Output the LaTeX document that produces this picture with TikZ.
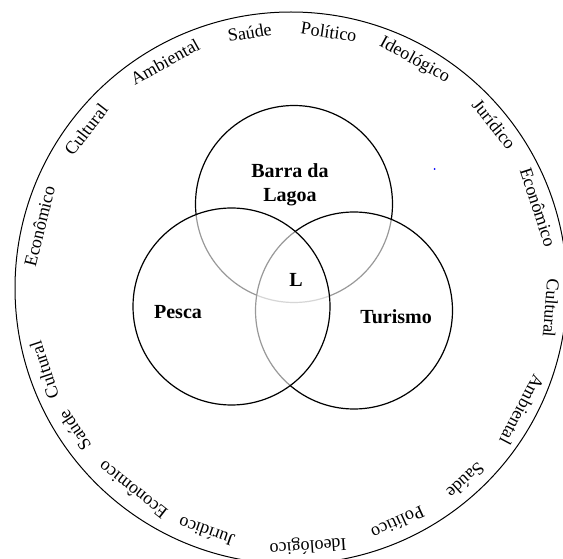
\documentclass[tikz,border=0pt]{standalone}
\usepackage{fontspec}
\setmainfont{Liberation Serif}
\usepackage{tikz}
\usetikzlibrary{positioning}

\begin{document}
\begin{tikzpicture}[
    x=1pt, y=1pt,
    ring/.style={circle, draw, line width=1pt, minimum size=552pt, inner sep=0pt},
    venn/.style={circle, draw, line width=1.2pt, minimum size=197pt, inner sep=0pt},
    veil/.style={fill=white, fill opacity=0.6},
    ringlbl/.style={inner sep=0pt, font=\fontsize{18}{20}\selectfont},
    tag/.style={inner sep=0pt, align=center, font=\fontsize{20}{24}\selectfont\bfseries}
]
\useasboundingbox (0,0) rectangle (563,558);
\clip (0,0) rectangle (563,558);

% Outer ring
\node[ring] (ring) at (291,270) {};

% Venn circles
\node[venn] (barra) at (294,354) {};
\node[venn, veil] (turismo) at (354,247.5) {};
\node[venn, veil] (pesca) at (231.5,251.5) {};

% Venn labels
\node[tag] (barra-lbl) at ([shift={(-4,19)}]barra.center) {Barra da\\Lagoa};
\node[tag] (pesca-lbl) at ([shift={(-53.5,-5.5)}]pesca.center) {Pesca};
\node[tag] (turismo-lbl) at ([shift={(42,-6.5)}]turismo.center) {Turismo};
\node[tag] (lugar) at ([shift={(64.5,26.5)}]pesca.center) {L};

% Ring labels (upper half)
\node[ringlbl, rotate=76.2] (econ1) at ([shift={(166.2:259)}]ring.center) {Econômico};
\node[ringlbl, rotate=52.3] (cult1) at ([shift={(142.3:259)}]ring.center) {Cultural};
\node[ringlbl, rotate=29.1] (ambi1) at ([shift={(119.1:259)}]ring.center) {Ambiental};
\node[ringlbl, rotate=9.2] (saude1) at ([shift={(99.2:259)}]ring.center) {Saúde};
\node[ringlbl, rotate=-8.4] (poli1) at ([shift={(81.6:259)}]ring.center) {Político};
\node[ringlbl, rotate=-28.5] (ideo1) at ([shift={(61.5:259)}]ring.center) {Ideológico};
\node[ringlbl, rotate=-51.1] (juri1) at ([shift={(38.9:261)}]ring.center) {Jurídico};
\node[ringlbl, rotate=-71.9] (econ2) at ([shift={(18.1:260)}]ring.center) {Econômico};

% Ring labels (lower half)
\node[ringlbl, rotate=-94.4] (cult2) at ([shift={(-4.4:261)}]ring.center) {Cultural};
\node[ringlbl, rotate=-117.8] (ambi2) at ([shift={(-27.8:261)}]ring.center) {Ambiental};
\node[ringlbl, rotate=-137.8] (saude2) at ([shift={(-47.8:260)}]ring.center) {Saúde};
\node[ringlbl, rotate=-155.5] (poli2) at ([shift={(-65.5:258)}]ring.center) {Político};
\node[ringlbl, rotate=-176.2] (ideo2) at ([shift={(-86.2:258)}]ring.center) {Ideológico};
\node[ringlbl, rotate=-199.1] (juri2) at ([shift={(-109.1:258)}]ring.center) {Jurídico};
\node[ringlbl, rotate=-218] (econ3) at ([shift={(-128:257)}]ring.center) {Econômico};
\node[ringlbl, rotate=-236.7] (saude3) at ([shift={(-146.7:259)}]ring.center) {Saúde};
\node[ringlbl, rotate=-251.6] (cult3) at ([shift={(-161.6:260)}]ring.center) {Cultural};

% stray dot
\fill[blue] (434.5,389) circle (1);

\end{tikzpicture}
\end{document}
